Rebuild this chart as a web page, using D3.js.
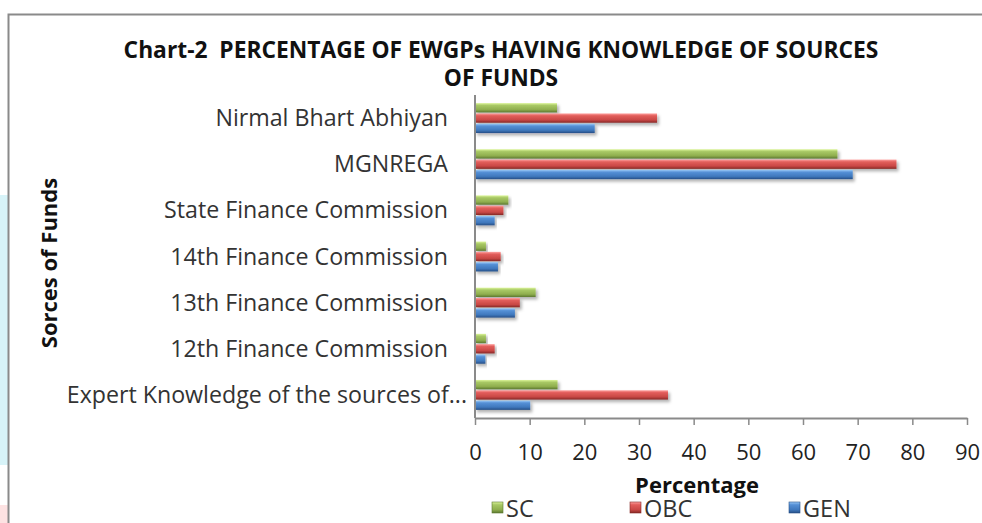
<!DOCTYPE html>
<meta charset="utf-8">
<script src="https://d3js.org/d3.v7.min.js"></script>
<style>
  body { margin: 0; background: #fff; }
  text { font-family: "Open Sans", "Noto Sans", sans-serif; fill: #222; }
  text.title { font-size: 22.8px; font-weight: bold; fill: #111; }
  text.cat { font-size: 23.2px; fill: #333; }
  text.axt { font-size: 22px; font-weight: bold; fill: #111; }
  .tick text { font-size: 22px; fill: #222; }
  text.leg { font-size: 23.5px; fill: #333; }
</style>
<div id="chart"></div>
<script>
// categories, top to bottom
var categories = ["Nirmal Bhart Abhiyan", "MGNREGA", "State Finance Commission",
  "14th Finance Commission", "13th Finance Commission", "12th Finance Commission",
  "Expert Knowledge of the sources of..."];
var series = ["SC", "OBC", "GEN"];
var scValues  = [15.0, 66.3, 6.1, 2.0, 11.1, 2.0, 15.1];
var obcValues = [33.3, 77.1, 5.2, 4.7, 8.2, 3.6, 35.3];
var genValues = [21.9, 69.1, 3.6, 4.2, 7.3, 1.9, 10.1];
var xTicks = [0, 10, 20, 30, 40, 50, 60, 70, 80, 90];

var W = 982, H = 523;
var svg = d3.select("#chart").append("svg").attr("width", W).attr("height", H);

var defs = svg.append("defs");
var shades = {
  SC:  ["#dcf59a", "#a8c865", "#8fae4e", "#5c7830"],
  OBC: ["#ffa3a1", "#e25e5b", "#c94845", "#852826"],
  GEN: ["#9ccaf8", "#5590d6", "#3f78bd", "#274f86"]
};
series.forEach(function(s) {
  var g = defs.append("linearGradient").attr("id", "g" + s)
    .attr("x1", 0).attr("y1", 0).attr("x2", 0).attr("y2", 1);
  [[0, 0], [0.25, 1], [0.7, 2], [1, 3]].forEach(function(p) {
    g.append("stop").attr("offset", p[0]).attr("stop-color", shades[s][p[1]]);
  });
});
defs.append("filter").attr("id", "shadow").attr("x", "-5%").attr("y", "-30%")
  .attr("width", "115%").attr("height", "190%")
  .append("feDropShadow").attr("dx", 2).attr("dy", 2.5)
  .attr("stdDeviation", 1.5).attr("flood-color", "#000").attr("flood-opacity", 0.3);

// faint background patches left of the frame
svg.append("rect").attr("x", 0).attr("y", 195).attr("width", 8).attr("height", 270).attr("fill", "#d7f3f8");
svg.append("rect").attr("x", 0).attr("y", 505).attr("width", 8).attr("height", 18).attr("fill", "#fde2e2");

// chart frame
svg.append("path").attr("d", "M8.5," + H + " V14.5 H" + W)
  .attr("fill", "none").attr("stroke", "#8a8a8a").attr("stroke-width", 2);

var x = d3.scaleLinear().domain([0, 90]).range([475, 967]);
var y = d3.scaleBand().domain(categories).range([95, 418]).paddingInner(0.33).paddingOuter(0.165);
var ySub = d3.scaleBand().domain(series).range([0, y.bandwidth()]);

var data = categories.map(function(c, i) {
  return { cat: c, vals: [
    { s: "SC", v: scValues[i] }, { s: "OBC", v: obcValues[i] }, { s: "GEN", v: genValues[i] }] };
});

// title
svg.append("text").attr("class", "title").attr("x", 501).attr("y", 58)
  .attr("text-anchor", "middle").attr("xml:space", "preserve")
  .text("Chart-2  PERCENTAGE OF EWGPs HAVING KNOWLEDGE OF SOURCES");
svg.append("text").attr("class", "title").attr("x", 501).attr("y", 86)
  .attr("text-anchor", "middle").text("OF FUNDS");

// bars
var grp = svg.append("g").selectAll("g").data(data).join("g")
  .attr("transform", function(d) { return "translate(0," + y(d.cat) + ")"; });
grp.selectAll("rect").data(function(d) { return d.vals; }).join("rect")
  .attr("x", x(0))
  .attr("y", function(d) { return ySub(d.s) + 0.5; })
  .attr("width", function(d) { return x(d.v) - x(0); })
  .attr("height", ySub.bandwidth() - 1)
  .attr("fill", function(d) { return "url(#g" + d.s + ")"; })
  .attr("filter", "url(#shadow)");

// category labels
svg.append("g").selectAll("text").data(categories).join("text")
  .attr("class", "cat")
  .attr("x", function(d, i) { return i === categories.length - 1 ? 467 : 448; })
  .attr("y", function(d) { return y(d) + y.bandwidth() / 2 + 8; })
  .attr("text-anchor", "end").text(function(d) { return d; });

// axes
svg.append("line").attr("x1", x(0)).attr("x2", x(0)).attr("y1", 95).attr("y2", 418)
  .attr("stroke", "#8a8a8a").attr("stroke-width", 2);
var xAxis = svg.append("g").attr("transform", "translate(0,418)")
  .call(d3.axisBottom(x).tickValues(xTicks).tickSize(7).tickPadding(19).tickSizeOuter(0));
xAxis.select(".domain").attr("stroke", "#8a8a8a").attr("stroke-width", 2);
xAxis.selectAll(".tick line").attr("stroke", "#8a8a8a").attr("stroke-width", 1.5);
xAxis.selectAll(".tick text").attr("font-family", null).attr("font-size", null);
xAxis.attr("font-family", null).attr("font-size", null);

svg.append("text").attr("class", "axt").attr("x", 697).attr("y", 493)
  .attr("text-anchor", "middle").text("Percentage");
svg.append("text").attr("class", "axt")
  .attr("transform", "translate(57,263) rotate(-90)")
  .attr("text-anchor", "middle").text("Sorces of Funds");

// legend
var legX = [492, 630, 789];
var leg = svg.append("g").selectAll("g").data(series).join("g")
  .attr("transform", function(d, i) { return "translate(" + legX[i] + ",502)"; });
leg.append("rect").attr("width", 11).attr("height", 11)
  .attr("fill", function(d) { return "url(#g" + d + ")"; })
  .attr("stroke", function(d) { return shades[d][3]; }).attr("stroke-width", 0.6);
leg.append("text").attr("class", "leg").attr("x", 14).attr("y", 14.5)
  .text(function(d) { return d; });
</script>
